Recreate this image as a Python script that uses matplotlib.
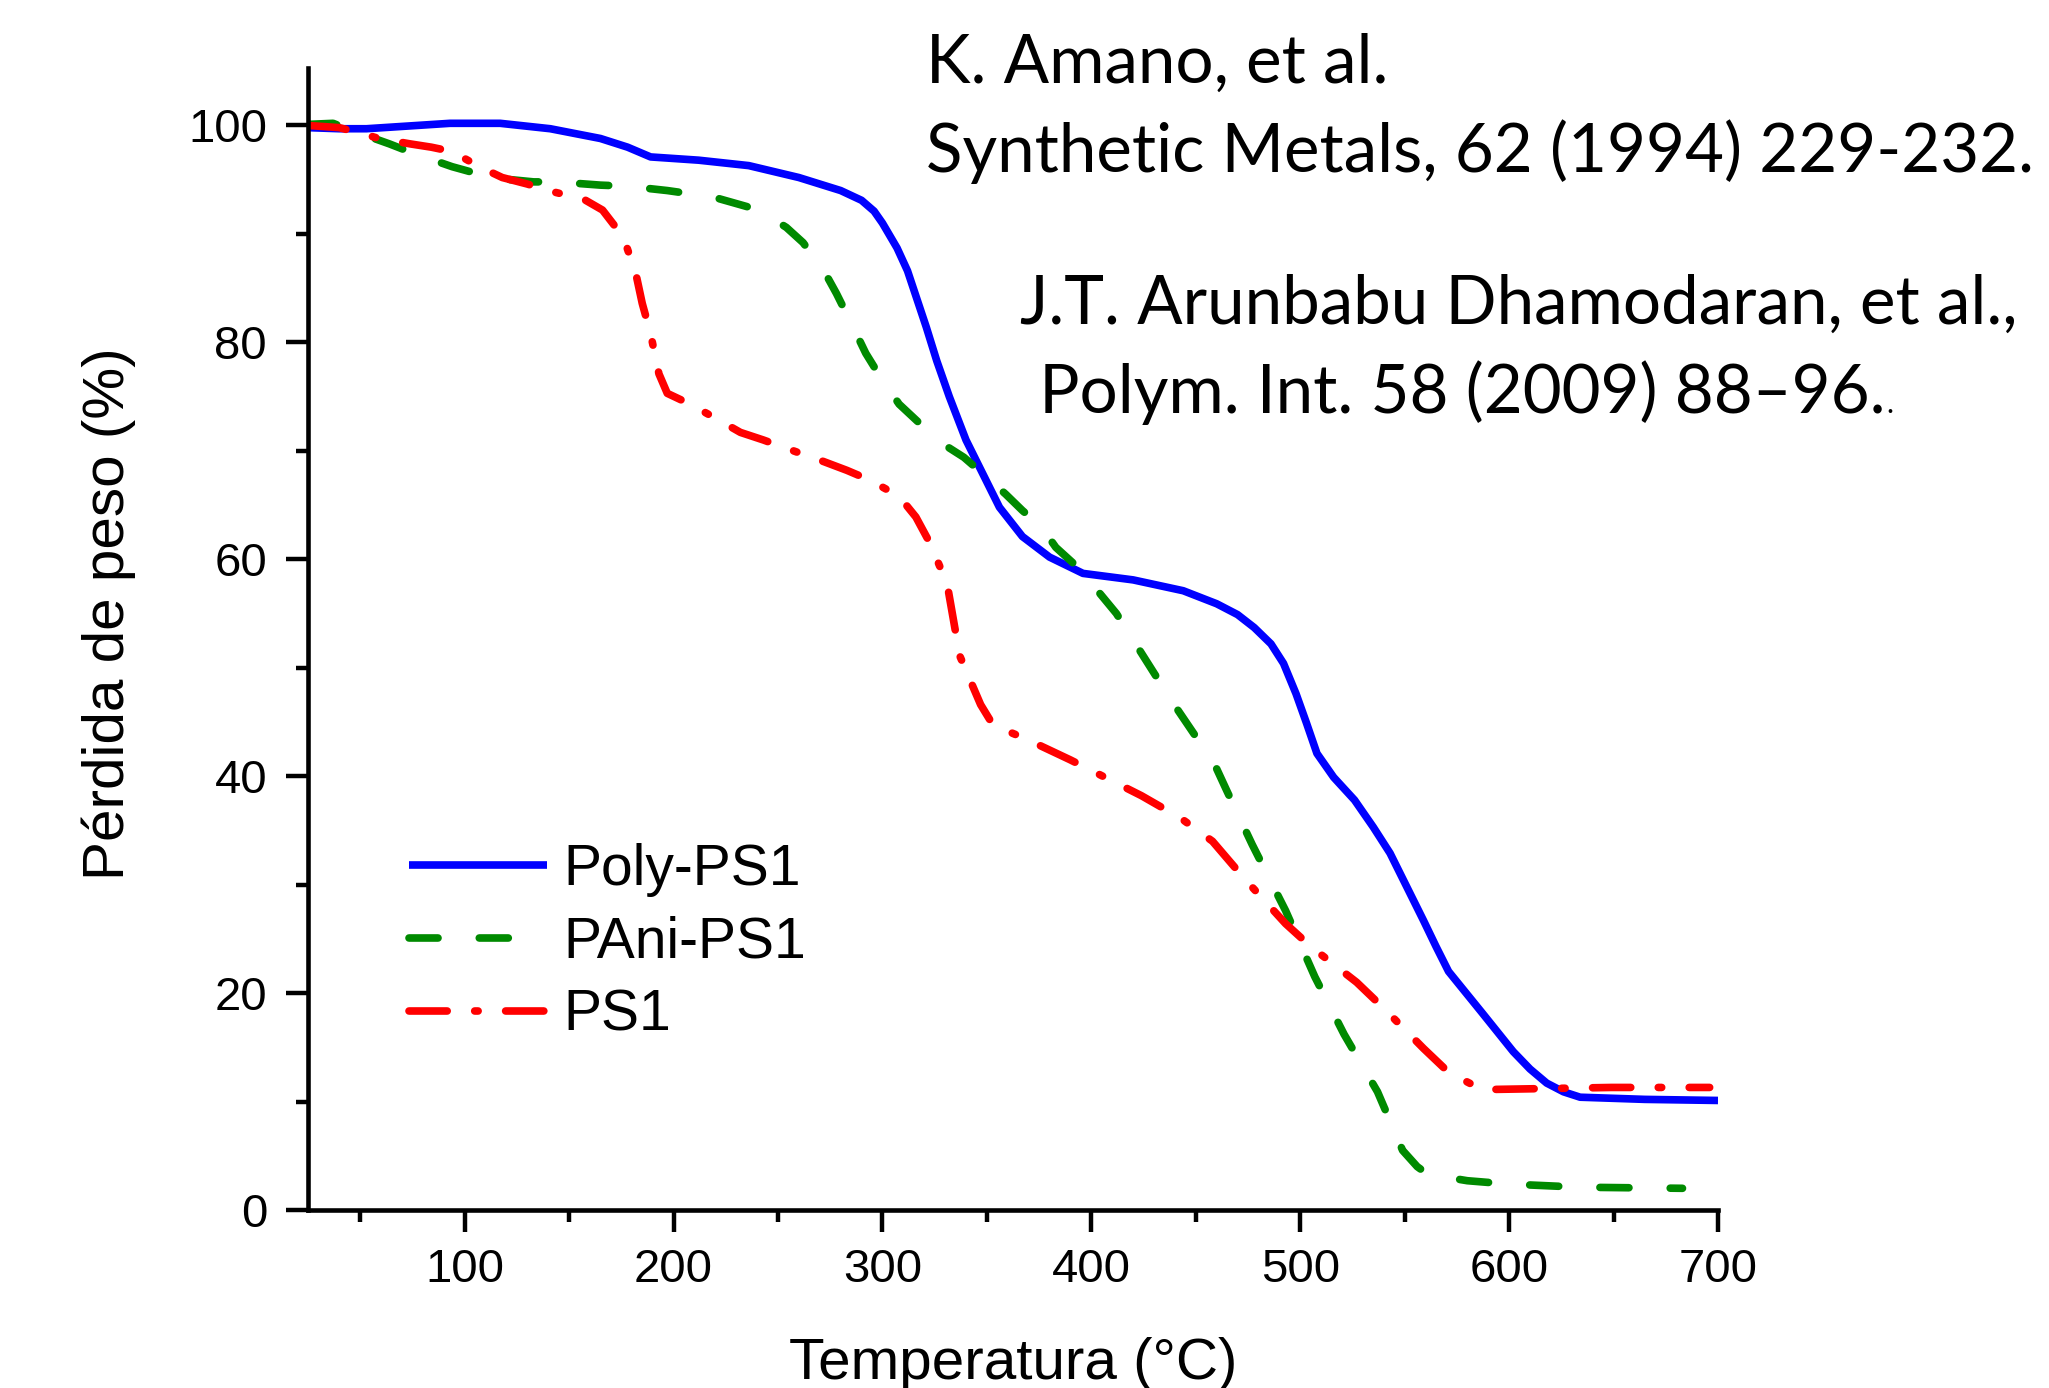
import matplotlib
matplotlib.use('Agg')
import matplotlib.pyplot as plt
from matplotlib.ticker import MultipleLocator

W, H = 2049, 1388
DPI = 100

# ---------------- data ----------------
temp_poly = [25, 40, 53, 77, 93, 117, 141, 165, 178, 189, 212, 236, 260, 280, 290, 296, 300, 307, 312, 321,
             326, 332, 340, 348, 356, 367, 380, 396, 420, 444, 460, 470, 478, 486, 492, 498, 503, 508, 516, 526, 535,
             543, 551, 559, 565, 571, 587, 602, 610, 618, 626, 634, 665, 700]
poly_ps1 = [99.8, 99.7, 99.7, 100, 100.2, 100.2, 99.7, 98.8, 98, 97.1, 96.8, 96.3, 95.2, 94, 93.1, 92.1, 91, 88.7, 86.6, 81.4,
            78.3, 75, 71, 67.9, 64.8, 62.1, 60.2, 58.7, 58.1, 57.1, 55.9, 54.9, 53.7, 52.2, 50.4, 47.6, 44.9, 42.1, 39.9, 37.8, 35.3,
            32.9, 29.8, 26.7, 24.3, 22, 18.2, 14.6, 13, 11.7, 10.9, 10.4, 10.2, 10.1]

temp_pani = [25, 37, 45, 64, 72, 85, 94, 109, 117, 133, 144, 165, 178, 197, 219, 241, 254, 262, 272, 278,
             286, 292, 300, 308, 318, 326, 339, 348, 359, 367, 376, 383, 395, 403, 412, 433, 440, 459, 465, 477,
             493, 507, 521, 537, 549, 556, 561, 580, 599, 634, 683]
pani_ps1 = [100.1, 100.2, 99.6, 98.3, 97.7, 96.8, 96.2, 95.4, 95.1, 94.8, 94.8, 94.5, 94.4, 94, 93.4, 92.2, 90.6, 89.2, 86.6, 84.5,
            81.4, 79, 76.5, 74.3, 72.5, 71, 69.4, 67.9, 66, 64.5, 63, 61.1, 59, 57.1, 55, 48.6, 46.5, 41.1, 38.6, 33.7,
            27.6, 21.5, 16.2, 10.9, 5.5, 4, 3.3, 2.7, 2.4, 2.1, 2.0]

temp_ps1 = [25, 40, 48, 59, 74, 84, 94, 107, 118, 130, 142, 157, 166, 176, 182, 185, 189, 193, 197, 208,
            222, 232, 243, 253, 272, 283, 294, 308, 316, 323, 331, 337, 347, 353, 368, 390, 424, 443, 458, 474,
            493, 505, 527, 540, 559, 571, 587, 618, 649, 696]
ps1 = [100, 99.8, 99.4, 98.8, 98.3, 98, 97.6, 96.2, 95.2, 94.6, 93.9, 93.2, 92.2, 89.7, 86.3, 83.6, 80.8, 77.1, 75.3, 74.3,
       72.8, 71.7, 71, 70.3, 69, 68.2, 67.3, 65.8, 63.9, 61.4, 57.7, 51.1, 46.6, 44.7, 43.5, 41.5, 38.2, 36.1, 34, 30.4,
       26.4, 24.3, 21, 18.6, 14.9, 12.7, 11.1, 11.2, 11.3, 11.3]

series_labels = ['Poly-PS1', 'PAni-PS1', 'PS1']
x_label = 'Temperatura (°C)'
y_label = 'Pérdida de peso (%)'
ref_lines = ['K. Amano, et al.',
             'Synthetic Metals, 62 (1994) 229-232.',
             'J.T. Arunbabu Dhamodaran, et al.,',
             ' Polym. Int. 58 (2009) 88–96.']
ref_tail = '.'

# ---------------- figure ----------------
plt.rcParams['font.family'] = ['Liberation Sans', 'DejaVu Sans']
fig = plt.figure(figsize=(W / DPI, H / DPI), dpi=DPI)
ax = fig.add_axes([308 / W, 1 - 1210 / H, (1718 - 308) / W, (1210 - 68) / H])

LW = 5.5
blue, green, red = '#0000FF', '#008A00', '#FF0000'
l1, = ax.plot(temp_poly, poly_ps1, color=blue, lw=LW, solid_capstyle='butt', solid_joinstyle='round')
l2, = ax.plot(temp_pani, pani_ps1, color=green, lw=LW, dashes=(3.8, 5.4), dash_capstyle='round')
l3, = ax.plot(temp_ps1, ps1, color=red, lw=LW, dashes=(5.0, 3.6, 0.45, 3.6), dash_capstyle='round')

ax.set_xlim(25, 700)
ax.set_ylim(0, 105.3)
ax.xaxis.set_major_locator(MultipleLocator(100))
ax.xaxis.set_minor_locator(MultipleLocator(50))
ax.yaxis.set_major_locator(MultipleLocator(20))
ax.yaxis.set_minor_locator(MultipleLocator(10))
for s in ['top', 'right']:
    ax.spines[s].set_visible(False)
for s in ['left', 'bottom']:
    ax.spines[s].set_linewidth(3.3)
ax.tick_params(which='major', direction='out', length=15.5, width=3.2, labelsize=34)
ax.tick_params(which='minor', direction='out', length=8.5, width=3.2)
ax.tick_params(axis='x', which='major', pad=12)
ax.tick_params(axis='y', which='major', pad=14)

fig.text(124 / W, 1 - 614 / H, y_label, rotation=90, rotation_mode='anchor',
         ha='center', va='baseline', fontsize=42)
fig.text(1013 / W, 1 - 1379 / H, x_label, ha='center', va='baseline', fontsize=42)

leg = fig.legend([l1, l2, l3], series_labels, loc='center left',
                 bbox_to_anchor=(409 / W, 1 - 943 / H), frameon=False, fontsize=41,
                 handlelength=2.42, handletextpad=0.29, labelspacing=0.33,
                 borderpad=0, borderaxespad=0)

# reference annotations, sized so the longest line matches the original width
fam = ['Lato', 'DejaVu Sans']
r = fig.canvas.get_renderer()
probe = fig.text(0, 0, ref_lines[1], fontsize=40, family=fam)
w = probe.get_window_extent(r).width
probe.remove()
fs = 40 * 1107 / w
pos = [(926, 83), (926, 172), (1020, 324), (1022, 413)]
last = None
for (xp, yp), s in zip(pos, ref_lines):
    last = fig.text(xp / W, 1 - yp / H, s, fontsize=fs, family=fam, ha='left', va='baseline')
ext = last.get_window_extent(r)
fig.text((ext.x1 + 1) / W, 1 - 413 / H, ref_tail, fontsize=fs * 0.45, family=fam,
         ha='left', va='baseline')

fig.savefig('out.png', dpi=DPI)
